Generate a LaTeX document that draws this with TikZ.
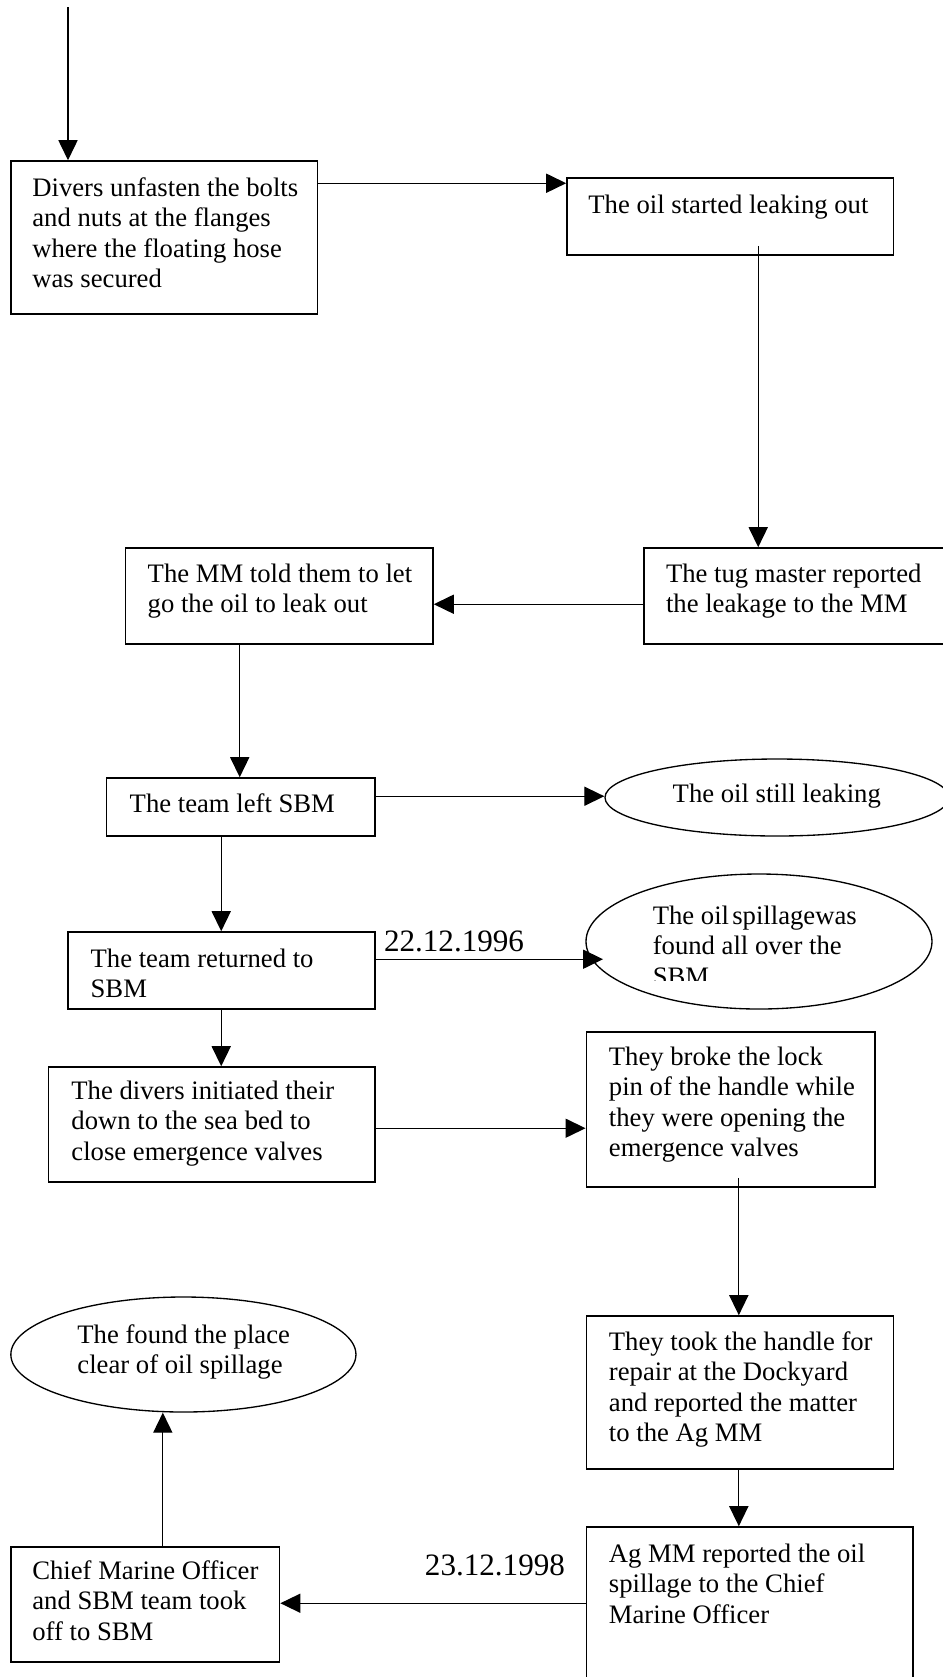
\documentclass[tikz,border=0pt]{standalone}
\usepackage{fontspec}
\setmainfont{Liberation Serif}
\usetikzlibrary{arrows.meta,shapes.geometric,fit,calc}
\newcommand\firstline{\rule{0pt}{9pt}}
\begin{document}
\begin{tikzpicture}[x=0.45pt,y=-0.45pt,
  box/.style={draw,line width=0.7pt,inner sep=0pt,rectangle},
  oval/.style={draw,line width=0.6pt,ellipse,inner sep=0pt},
  txt/.style={anchor=north west,inner sep=0pt,align=left,font=\fontsize{12}{13.7}\selectfont},
  datelbl/.style={anchor=base west,inner sep=0pt,font=\fontsize{14}{16}\selectfont},
  arr/.style={line width=0.55pt,-{Triangle[length=9pt,width=8.6pt]}}]
\useasboundingbox (0,0) rectangle (943,1677);

% boxes
\node[box,fit={(11,161) (317.5,314)}] (b1) {};
\node[box,fit={(567,178) (893.5,255)}] (b2) {};
\node[box,fit={(644,548) (960,644)}] (b3) {};
\node[box,fit={(125.7,548) (433,644)}] (b4) {};
\node[box,fit={(106.4,778) (375.2,836)}] (b5) {};
\node[box,fit={(68,932) (375.2,1009)}] (b6) {};
\node[box,fit={(48.7,1067) (375.2,1182)}] (b7) {};
\node[box,fit={(586.3,1032) (875,1187)}] (b8) {};
\node[box,fit={(586.3,1316) (893.6,1469)}] (b9) {};
\node[box,fit={(586.3,1527) (912.8,1700)}] (b10) {};
\node[box,fit={(10.8,1547) (279.6,1662)}] (b11) {};

% ovals
\node[oval,minimum width=154.8pt,minimum height=34.65pt] (e1) at (777,797.5) {};
\node[oval,minimum width=155.7pt,minimum height=60.75pt] (e2) at (759,941.5) {};
\node[oval,minimum width=155.3pt,minimum height=51.75pt] (e3) at (183.4,1354.5) {};

% texts
\node[txt] (t1) at (31.9,176) {\firstline Divers unfasten the bolts\\and nuts at the flanges\\where the floating hose\\was secured};
\node[txt] (t2) at (588,193) {\firstline The oil started leaking out};
\node[txt] (t3) at (665.6,562) {\firstline The tug master reported\\the leakage to the MM};
\node[txt] (t4) at (147.3,562) {\firstline The MM told them to let\\go the oil to leak out};
\node[txt] (t5) at (129.3,792) {\firstline The team left SBM};
\node[txt] (t6) at (672.3,782) {\firstline The oil still leaking};
\node[txt] (t7) at (90.2,947) {\firstline The team returned to\\SBM};
\begin{scope}
  \clip (595,880) rectangle (935,980);
  \node[txt] (t8) at (652.4,904) {\firstline The oil\hspace{0.12em}spillagewas\\found all over the\\SBM};
\end{scope}
\node[txt] (t9) at (71,1079) {\firstline The divers initiated their\\down to the sea bed to\\close emergence valves};
\node[txt] (t10) at (608.5,1045) {\firstline They broke the lock\\pin of the handle while\\they were opening the\\emergence valves};
\node[txt] (t11) at (608.5,1330) {\firstline They took the handle for\\repair at the Dockyard\\and reported the matter\\to the Ag MM};
\node[txt] (t12) at (608.5,1542) {\firstline Ag MM reported the oil\\spillage to the Chief\\Marine Officer};
\node[txt] (t13) at (31.9,1559) {\firstline Chief Marine Officer\\and SBM team took\\off to SBM};
\node[txt] (t14) at (77,1323) {\firstline The found the place\\clear of oil spillage};

% dates
\node[datelbl] (d1) at (383.6,951) {22.12.1996};
\node[datelbl] (d2) at (424.5,1575) {23.12.1998};

% connector end points
\coordinate (s0) at (68,7);
\coordinate (c1) at ($(b1.north east)+(0,23)$);
\coordinate (c2) at ($(b2.south west)+(192,-10)$);
\coordinate (c3) at ($(b3.north west)+(0,57)$);
\coordinate (c4) at ($(b4.south west)+(114.8,0)$);
\coordinate (c5) at ($(b5.north east)+(0,19)$);
\coordinate (c6) at ($(b5.south west)+(115.6,0)$);
\coordinate (c7) at ($(b6.north east)+(0,28)$);
\coordinate (c7e) at ($(e2.west)+(17.7,0)$);
\coordinate (c8) at ($(b6.south west)+(154,0)$);
\coordinate (c9) at ($(b7.north east)+(0,62)$);
\coordinate (c10) at ($(b8.south west)+(153.3,-10)$);
\coordinate (c11) at ($(b9.south west)+(153.3,0)$);
\coordinate (c12) at ($(b10.north west)+(0,77)$);
\coordinate (c13) at ($(b11.north west)+(152.8,0)$);

% connectors
\draw[arr] (s0) -- (s0 |- b1.north);
\draw[arr] (c1) -- (c1 -| b2.west);
\draw[arr] (c2) -- (c2 |- b3.north);
\draw[arr] (c3) -- (c3 -| b4.east);
\draw[arr] (c4) -- (c4 |- b5.north);
\draw[arr] (c5) -- (c5 -| e1.west);
\draw[arr] (c6) -- (c6 |- b6.north);
\draw[arr] (c7) -- (c7 -| c7e);
\draw[arr] (c8) -- (c8 |- b7.north);
\draw[arr] (c9) -- (c9 -| b8.west);
\draw[arr] (c10) -- (c10 |- b9.north);
\draw[arr] (c11) -- (c11 |- b10.north);
\draw[arr] (c12) -- (c12 -| b11.east);
\draw[arr] (c13) -- (c13 |- e3.south);
\end{tikzpicture}
\end{document}
